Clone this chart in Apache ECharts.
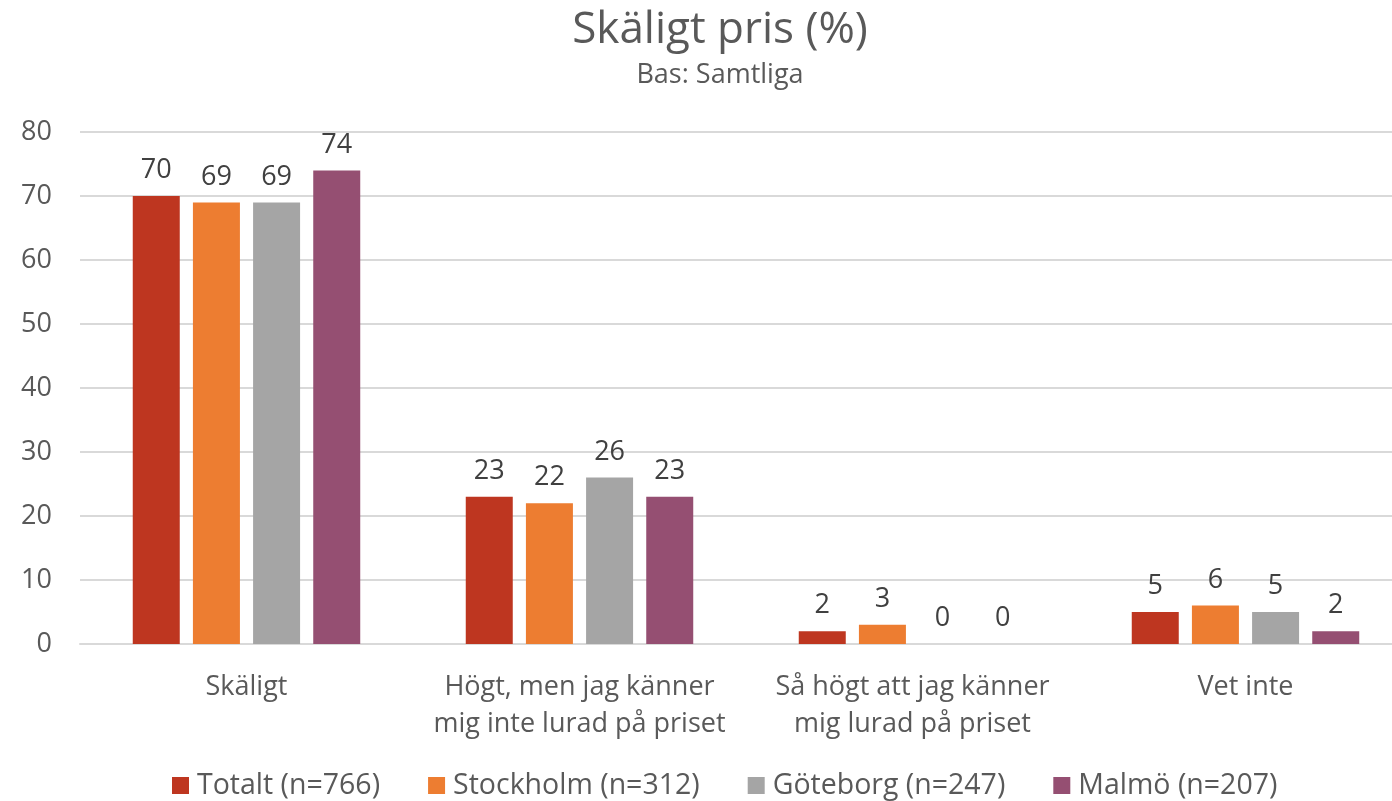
<!DOCTYPE html>
<html><head><meta charset="utf-8">
<script src="https://cdn.jsdelivr.net/npm/echarts@6/dist/echarts.min.js"></script>
<style>html,body{margin:0;padding:0;background:#fff}#c{width:1392px;height:801px}</style>
</head><body><div id="c"></div>
<script>
const categories = ["Skäligt", "Högt, men jag känner\nmig inte lurad på priset", "Så högt att jag känner\nmig lurad på priset", "Vet inte"];
const seriesNames = ["Totalt (n=766)", "Stockholm (n=312)", "Göteborg (n=247)", "Malmö (n=207)"];
const totalt = [70, 23, 2, 5];
const stockholm = [69, 22, 3, 6];
const goteborg = [69, 26, 0, 5];
const malmo = [74, 23, 0, 2];
const yTicks = {min: 0, max: 80, interval: 10};
const colors = ["#BE3620", "#ED7D31", "#A5A5A5", "#954F72"];
const F = "Open Sans, Noto Sans, sans-serif";
const values = [totalt, stockholm, goteborg, malmo];
const chart = echarts.init(document.getElementById('c'));
chart.setOption({
  animation: false,
  title: {
    text: "Skäligt pris (%)", subtext: "Bas: Samtliga", left: 715, top: 3, textAlign: 'center',
    padding: 5,
    textStyle: {fontFamily: F, fontSize: 44, fontWeight: 'normal', color: '#595959'},
    subtextStyle: {fontFamily: F, fontSize: 27, color: '#595959'}, itemGap: 10
  },
  legend: {
    top: 766, left: 167, itemWidth: 17, itemHeight: 17, itemGap: 48, icon: 'rect',
    textStyle: {fontFamily: F, fontSize: 28.5, color: '#595959', padding: [0, 0, 0, 3]}
  },
  grid: {left: 80, width: 1332, top: 132, height: 512, outerBoundsMode: 'none', containLabel: false},
  xAxis: {
    type: 'category', data: categories,
    axisLine: {lineStyle: {color: '#D9D9D9', width: 2}}, axisTick: {show: false},
    axisLabel: {interval: 0, fontFamily: F, fontSize: 27, color: '#595959', lineHeight: 37, margin: 25}
  },
  yAxis: {
    type: 'value', min: yTicks.min, max: yTicks.max, interval: yTicks.interval,
    axisLine: {show: false}, axisTick: {show: false},
    splitLine: {lineStyle: {color: '#D9D9D9', width: 2}},
    axisLabel: {fontFamily: F, fontSize: 27, color: '#595959', margin: 28}
  },
  series: seriesNames.map((n, i) => ({
    name: n, type: 'bar', data: values[i], barWidth: 47, barGap: '28%',
    itemStyle: {color: colors[i]},
    label: {show: true, position: 'top', distance: 12, fontFamily: F, fontSize: 27, color: '#404040'}
  }))
});
</script></body></html>
